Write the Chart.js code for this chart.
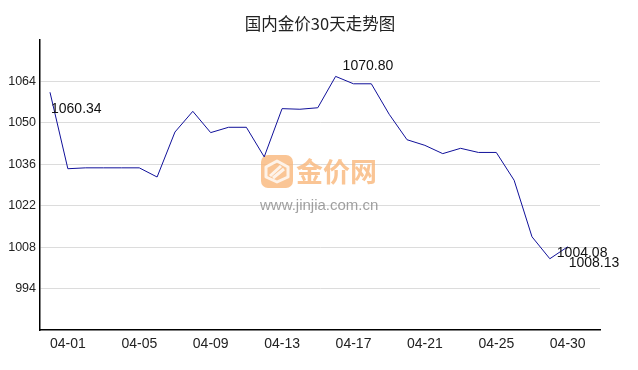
<!DOCTYPE html>
<html>
<head>
<meta charset="utf-8">
<script src="https://cdn.jsdelivr.net/npm/chart.js@4/dist/chart.umd.min.js"></script>
<style>
  body { margin: 0; background: #fff; }
  #wrap { width: 638px; height: 370px; }
</style>
</head>
<body>
<div id="wrap"><canvas id="gold-chart" width="638" height="370"></canvas></div>
<script>
// 30 day domestic gold price
var dates = ['04-01', '04-02', '04-03', '04-04', '04-05', '04-06', '04-07', '04-08', '04-09', '04-10',
             '04-11', '04-12', '04-13', '04-14', '04-15', '04-16', '04-17', '04-18', '04-19', '04-20',
             '04-21', '04-22', '04-23', '04-24', '04-25', '04-26', '04-27', '04-28', '04-30', '05-01'];
var prices = [1060.34, 1034.5, 1034.8, 1034.8, 1034.8, 1034.8, 1031.7, 1046.9, 1053.9, 1046.7,
              1048.5, 1048.5, 1038.5, 1054.8, 1054.6, 1055.1, 1065.7, 1063.2, 1063.2, 1052.9,
              1044.3, 1042.4, 1039.6, 1041.4, 1040.0, 1040.0, 1030.6, 1011.5, 1004.08, 1008.13];
var xTickIndex = [0, 4, 8, 12, 16, 20, 24, 28];
var yTickValues = [994, 1008, 1022, 1036, 1050, 1064];
// labelled points: first, high, low, last
var markIndex = [0, 16, 28, 29];
var markText = ['1060.34', '1070.80', '1004.08', '1008.13'];

var latin = '"Liberation Sans", Arial, sans-serif';
var cjk = '"Noto Sans CJK SC", sans-serif';

var titlePlugin = {
    id: 'titleText',
    afterDraw: function (chart) {
        var c = chart.ctx;
        c.save();
        c.fillStyle = '#222';
        c.font = '16.5px ' + cjk;
        c.textAlign = 'center';
        c.textBaseline = 'middle';
        c.fillText('国内金价30天走势图', 320, 24);
        c.restore();
    }
};

var watermark = {
    id: 'watermark',
    beforeDatasetsDraw: function (chart) {
        var c = chart.ctx;
        c.save();
        c.globalAlpha = 0.8;
        // logo tile
        c.fillStyle = '#f9b77a';
        c.beginPath();
        c.roundRect(261, 155, 32, 33, 7);
        c.fill();
        c.strokeStyle = '#fff';
        c.lineWidth = 3;
        c.lineJoin = 'round';
        c.beginPath();
        c.moveTo(277, 161);
        c.lineTo(288, 167);
        c.lineTo(288, 177);
        c.lineTo(277, 182);
        c.lineTo(266, 177);
        c.lineTo(266, 167);
        c.closePath();
        c.stroke();
        c.beginPath();
        c.moveTo(270, 176);
        c.lineTo(281, 166);
        c.moveTo(273, 178);
        c.lineTo(284, 169);
        c.stroke();
        c.fillStyle = '#f9b77a';
        c.font = 'bold 27px ' + cjk;
        c.textAlign = 'left';
        c.textBaseline = 'middle';
        c.fillText('金价网', 296, 172);
        c.fillStyle = '#888';
        c.font = '15px ' + latin;
        c.fillText('www.jinjia.com.cn', 260, 206);
        c.restore();
    }
};

var markLabels = {
    id: 'markLabels',
    afterDatasetsDraw: function (chart) {
        var c = chart.ctx;
        var pts = chart.getDatasetMeta(0).data;
        var offs = [[1, 21], [7, -6], [7, -2], [1, 20]];
        c.save();
        c.fillStyle = '#111';
        c.font = '14px ' + latin;
        c.textAlign = 'left';
        c.textBaseline = 'alphabetic';
        markIndex.forEach(function (idx, k) {
            var p = pts[idx];
            c.fillText(markText[k], p.x + offs[k][0], p.y + offs[k][1]);
        });
        c.restore();
    }
};

var ctx = document.getElementById('gold-chart').getContext('2d');
var myChart = new Chart(ctx, {
    type: 'line',
    data: {
        datasets: [{
            data: prices.map(function (v, i) { return { x: i, y: v }; }),
            borderColor: '#10109a',
            borderWidth: 1,
            pointRadius: 0,
            tension: 0,
            fill: false
        }]
    },
    options: {
        responsive: false,
        animation: false,
        layout: { padding: { left: 0, top: 40, right: 38, bottom: 0 } },
        plugins: {
            legend: { display: false },
            tooltip: { enabled: false }
        },
        scales: {
            x: {
                type: 'linear',
                min: -0.56,
                max: 30.81,
                afterBuildTicks: function (scale) {
                    scale.ticks = xTickIndex.map(function (v) { return { value: v }; });
                },
                afterFit: function (scale) { scale.height = 40; },
                grid: { display: false, drawTicks: false },
                border: { display: true, color: '#000', width: 1.5 },
                ticks: {
                    autoSkip: false,
                    maxRotation: 0,
                    align: 'start',
                    padding: 6,
                    color: '#222',
                    font: { family: latin, size: 14 },
                    callback: function (v) { return dates[v]; }
                }
            },
            y: {
                min: 980,
                max: 1078,
                afterBuildTicks: function (scale) {
                    scale.ticks = yTickValues.map(function (v) { return { value: v }; });
                },
                afterFit: function (scale) { scale.width = 40; },
                grid: { color: '#dcdcdc', lineWidth: 1, drawTicks: false },
                border: { display: true, color: '#000', width: 1.5 },
                ticks: {
                    padding: 4,
                    color: '#222',
                    font: { family: latin, size: 12.5 },
                    callback: function (v) { return String(v); }
                }
            }
        }
    },
    plugins: [titlePlugin, watermark, markLabels]
});
</script>
</body>
</html>
